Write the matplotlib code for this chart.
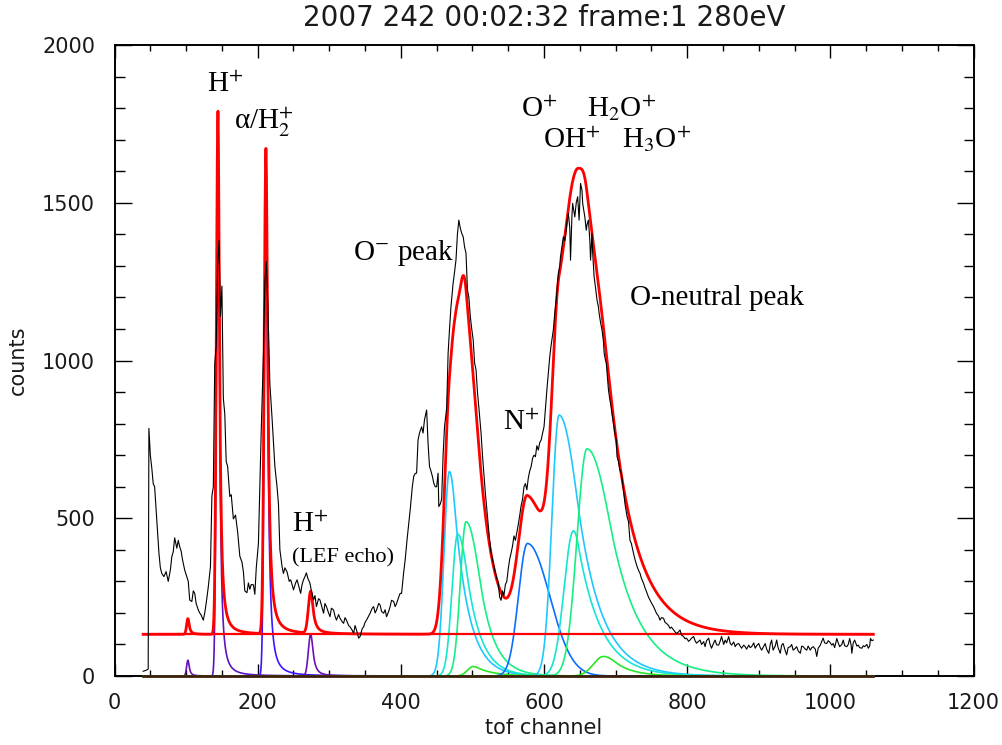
import numpy as np
import matplotlib
matplotlib.use("Agg")
import matplotlib.pyplot as plt
from matplotlib.ticker import MultipleLocator

# ---------------------------------------------------------------- measured spectrum
tof_channel = [
    40, 44, 47, 48, 50, 52, 54, 56, 59, 62, 64, 66, 69, 72, 75, 78, 80, 82, 84, 87,
    89, 91, 93, 95, 98, 101, 103, 105, 108, 110, 112, 114, 117, 119, 121, 124, 126, 128, 131, 134,
    136, 138, 140, 142, 144, 146, 148, 150, 152, 154, 156, 158, 161, 163, 166, 169, 172, 175, 178, 180,
    182, 185, 187, 189, 191, 194, 196, 198, 201, 203, 205, 208, 210, 212, 214, 217, 220, 222, 224, 227,
    229, 231, 234, 236, 238, 241, 244, 246, 248, 250, 253, 255, 258, 260, 262, 264, 266, 268, 270, 273,
    275, 278, 280, 282, 285, 287, 290, 292, 294, 296, 299, 301, 303, 306, 308, 310, 313, 315, 318, 320,
    322, 324, 327, 329, 332, 334, 336, 338, 341, 343, 346, 348, 350, 352, 355, 357, 360, 362, 364, 366,
    369, 371, 373, 376, 378, 380, 383, 385, 387, 390, 392, 394, 397, 399, 401, 404, 406, 409, 413, 416,
    418, 420, 422, 424, 426, 429, 431, 433, 436, 438, 440, 442, 444, 446, 448, 450, 452, 453, 455, 457,
    459, 461, 464, 466, 468, 470, 473, 475, 477, 479, 481, 483, 485, 487, 489, 491, 493, 495, 497, 499,
    501, 503, 505, 507, 509, 512, 514, 516, 518, 520, 522, 524, 526, 528, 530, 532, 534, 536, 538, 540,
    542, 544, 546, 548, 550, 552, 554, 556, 558, 560, 562, 564, 566, 568, 570, 572, 574, 576, 578, 580,
    582, 584, 586, 588, 590, 592, 594, 596, 598, 600, 602, 604, 606, 608, 610, 613, 615, 617, 619, 620,
    622, 623, 625, 627, 629, 631, 632, 634, 636, 637, 639, 640, 642, 643, 645, 647, 648, 649, 651, 653,
    654, 656, 657, 659, 660, 662, 664, 665, 667, 668, 670, 672, 674, 676, 677, 679, 681, 683, 684, 686,
    687, 690, 692, 693, 695, 697, 699, 701, 702, 704, 706, 708, 711, 713, 716, 718, 720, 722, 725, 727,
    730, 732, 734, 736, 739, 741, 744, 746, 748, 750, 753, 755, 757, 760, 762, 764, 767, 769, 771, 774,
    776, 778, 781, 783, 785, 788, 790, 792, 795, 797, 799, 802, 804, 806, 809, 811, 813, 816, 818, 820,
    823, 825, 827, 830, 832, 834, 837, 839, 841, 844, 846, 848, 851, 853, 855, 858, 860, 862, 865, 867,
    869, 872, 874, 876, 879, 881, 883, 886, 888, 890, 893, 895, 897, 900, 902, 904, 907, 909, 911, 914,
    916, 918, 920, 923, 925, 927, 930, 932, 934, 937, 939, 941, 944, 946, 948, 951, 953, 955, 958, 960,
    962, 965, 967, 969, 972, 974, 976, 979, 981, 983, 986, 988, 990, 992, 995, 997, 999, 1002, 1004, 1006,
    1009, 1011, 1013, 1016, 1018, 1020, 1023, 1025, 1027, 1029, 1030, 1032, 1034, 1037, 1039, 1041, 1044, 1046, 1048, 1051,
    1053, 1055, 1056, 1058, 1060,
]
counts_measured = [
    15, 18, 22, 785, 700, 660, 610, 600, 494, 390, 343, 325, 315, 331, 300, 336, 378, 394, 438, 405,
    430, 410, 396, 368, 336, 315, 300, 241, 236, 270, 262, 230, 209, 200, 193, 177, 200, 230, 283, 347,
    570, 600, 990, 1045, 1300, 1380, 1140, 1236, 880, 831, 680, 664, 569, 575, 498, 510, 456, 380, 361, 331,
    270, 264, 295, 275, 290, 289, 259, 343, 420, 600, 783, 1021, 1250, 1313, 1188, 926, 819, 740, 664, 600,
    545, 400, 347, 325, 343, 330, 300, 305, 290, 273, 295, 305, 280, 262, 290, 305, 315, 327, 310, 294,
    270, 241, 255, 220, 245, 241, 215, 199, 230, 220, 200, 188, 215, 209, 190, 177, 195, 183, 172, 167,
    185, 177, 160, 156, 145, 135, 160, 146, 120, 125, 150, 156, 170, 177, 190, 199, 215, 220, 200, 209,
    230, 225, 205, 199, 210, 188, 205, 220, 240, 236, 220, 230, 250, 262, 262, 330, 368, 440, 526, 600,
    633, 642, 643, 748, 770, 790, 770, 812, 843, 737, 664, 650, 633, 611, 600, 600, 643, 537, 545, 560,
    700, 790, 850, 1023, 1100, 1171, 1245, 1280, 1319, 1400, 1445, 1420, 1403, 1393, 1360, 1340, 1224, 1200, 1140, 1100,
    1066, 992, 971, 900, 850, 771, 700, 640, 581, 530, 476, 430, 391, 370, 350, 328, 310, 297, 250, 240,
    270, 255, 290, 300, 339, 370, 390, 412, 444, 430, 455, 480, 508, 540, 560, 600, 610, 590, 627, 650,
    664, 690, 700, 695, 730, 716, 740, 748, 770, 790, 850, 907, 960, 1012, 1050, 1097, 1150, 1192, 1250, 1276,
    1300, 1329, 1360, 1392, 1380, 1413, 1440, 1466, 1420, 1318, 1460, 1498, 1470, 1455, 1500, 1519, 1480, 1445, 1561, 1540,
    1498, 1470, 1455, 1413, 1430, 1445, 1380, 1318, 1403, 1340, 1265, 1230, 1192, 1170, 1149, 1120, 1097, 1060, 1023, 1000,
    991, 907, 875, 864, 830, 801, 769, 748, 695, 680, 653, 642, 589, 547, 505, 490, 431, 420, 389, 370,
    347, 335, 326, 310, 294, 280, 262, 250, 241, 232, 220, 210, 199, 190, 177, 185, 183, 170, 167, 160,
    151, 155, 146, 140, 135, 140, 146, 130, 125, 118, 120, 110, 114, 120, 125, 112, 104, 110, 114, 100,
    109, 93, 112, 120, 100, 88, 105, 114, 99, 98, 110, 125, 100, 114, 105, 125, 104, 98, 108, 93,
    100, 103, 95, 88, 98, 93, 85, 98, 90, 93, 105, 88, 96, 103, 90, 82, 95, 103, 85, 72,
    100, 114, 82, 95, 114, 90, 72, 98, 103, 80, 67, 90, 93, 100, 82, 88, 93, 80, 72, 95,
    93, 85, 82, 95, 82, 90, 93, 85, 62, 88, 98, 110, 120, 105, 103, 112, 108, 98, 103, 90,
    119, 105, 93, 100, 114, 96, 93, 100, 119, 98, 72, 105, 114, 95, 98, 90, 88, 96, 93, 100,
    88, 95, 119, 112, 114,
]

# ---------------------------------------------------------------- fit model
fit_range = (40, 1060)
background_level = 132

# light-ion peaks (gaussian rise, lorentzian fall-off)
h_centers = [102.5, 144.5, 211.5, 274.0]
h_heights = [50, 1658, 1538, 133]
h_sigma_left = [1.8, 2.2, 2.4, 3.2]
h_gamma_right = [2.2, 2.47, 3.0, 4.0]
h_colors = ["#6a10b4", "#5a14c0", "#3c14ff", "#6a10b4"]

# water-group / nitrogen peaks (gaussian rise, gaussian core with exponential tail)
o_centers = [467.8, 479.4, 491.0, 501.0, 576.8, 621.0, 641.0, 660.0, 683.0]
o_heights = [648, 450, 489, 30, 420, 827, 460, 720, 62]
o_sigma_left = [7.5, 8.0, 8.0, 8.0, 12.5, 10.0, 13.0, 14.0, 14.0]
o_sigma_right = [12.0, 16.0, 20.0, 12.0, 31.0, 28.7, 15.0, 36.0, 20.0]
o_tail_start = [0.6, 0.8, 1.0, 0.5, 6.0, 0.87, 0.47, 0.9, 0.8]
o_colors = ["#1ec8ff", "#14e6d2", "#14f082", "#28e628", "#0a6eff",
            "#1ec8ff", "#14e6d2", "#14f082", "#28e628"]


def light_ion_peak(x, center, height, sigma_left, gamma_right):
    d = x - center
    left = np.exp(-0.5 * (d / sigma_left) ** 2)
    right = 1.0 / (1.0 + (d / gamma_right) ** 2)
    return height * np.where(d < 0, left, right)


def heavy_ion_peak(x, center, height, sigma_left, sigma_right, k):
    d = x - center
    left = np.exp(-0.5 * (d / sigma_left) ** 2)
    u = np.maximum(d, 0) / sigma_right
    right = np.where(u < k, np.exp(-0.5 * u ** 2), np.exp(0.5 * k ** 2 - k * u))
    return height * np.where(d < 0, left, right)


x = np.arange(fit_range[0], fit_range[1] + 0.001, 0.25)
h_parts = [light_ion_peak(x, c, h, sl, g)
           for c, h, sl, g in zip(h_centers, h_heights, h_sigma_left, h_gamma_right)]
o_parts = [heavy_ion_peak(x, c, h, sl, sr, k)
           for c, h, sl, sr, k in zip(o_centers, o_heights, o_sigma_left,
                                       o_sigma_right, o_tail_start)]
total_fit = background_level + np.sum(h_parts, axis=0) + np.sum(o_parts, axis=0)

# ---------------------------------------------------------------- figure
plt.rcParams["mathtext.fontset"] = "stix"
fig = plt.figure(figsize=(10.03, 7.45), dpi=100)
ax = fig.add_axes([0.1142, 0.0926, 0.8564, 0.8470])

for part, col in zip(h_parts, h_colors):
    ax.plot(x, part, color=col, lw=1.2, zorder=3, clip_on=False)
for part, col in zip(o_parts, o_colors):
    ax.plot(x, part, color=col, lw=1.2, zorder=3, clip_on=False)
ax.plot(fit_range, [0, 0], color="#3c1e0a", lw=2.0, zorder=3.5, clip_on=False)
ax.plot(fit_range, [background_level, background_level], color="#ff0000", lw=1.6, zorder=4)
ax.plot(x, total_fit, color="#ff0000", lw=2.0, zorder=4)
ax.plot(tof_channel, counts_measured, color="black", lw=0.8, zorder=5)

ax.set_xlim(0, 1200)
ax.set_ylim(0, 2000)
ax.xaxis.set_major_locator(MultipleLocator(200))
ax.xaxis.set_minor_locator(MultipleLocator(50))
ax.yaxis.set_major_locator(MultipleLocator(500))
ax.yaxis.set_minor_locator(MultipleLocator(100))
ax.tick_params(which="both", direction="in", top=True, right=True, width=1.0,
               colors="black", labelcolor="#1a1a1a", labelsize=15)
ax.tick_params(axis="x", which="major", length=9, pad=12)
ax.tick_params(axis="x", which="minor", length=4.5)
ax.tick_params(axis="y", which="major", length=12, pad=14)
ax.tick_params(axis="y", which="minor", length=7)
for sp in ax.spines.values():
    sp.set_linewidth(1.4)
    sp.set_zorder(1)

ax.set_xlabel("tof channel", fontsize=15, color="#1a1a1a", labelpad=4)
ax.set_ylabel("counts", fontsize=15, color="#1a1a1a", labelpad=10)
ax.set_title("2007 242 00:02:32 frame:1 280eV", fontsize=20, color="#1a1a1a", pad=14)

serif = dict(family="Liberation Serif", color="black", ha="left", va="baseline", zorder=6)
ax.text(129, 1851, r"H$^{+}$", fontsize=21, **serif)
ax.text(167, 1731, "\u03b1/H$_{2}^{+}$", fontsize=21, **serif)
ax.text(568, 1772, r"O$^{+}$", fontsize=21, **serif)
ax.text(660, 1772, r"H$_{2}$O$^{+}$", fontsize=21, **serif)
ax.text(599, 1674, r"OH$^{+}$", fontsize=21, **serif)
ax.text(709, 1674, r"H$_{3}$O$^{+}$", fontsize=21, **serif)
ax.text(333, 1319, r"O$^{-}$ peak", fontsize=21, **serif)
ax.text(720, 1176, "O-neutral peak", fontsize=21, **serif)
ax.text(543, 780, r"N$^{+}$", fontsize=21, **serif)
ax.text(248, 456, r"H$^{+}$", fontsize=21, **serif)
ax.text(248, 361, "(LEF echo)", fontsize=16, **serif)

fig.savefig("out.png", dpi=100)
